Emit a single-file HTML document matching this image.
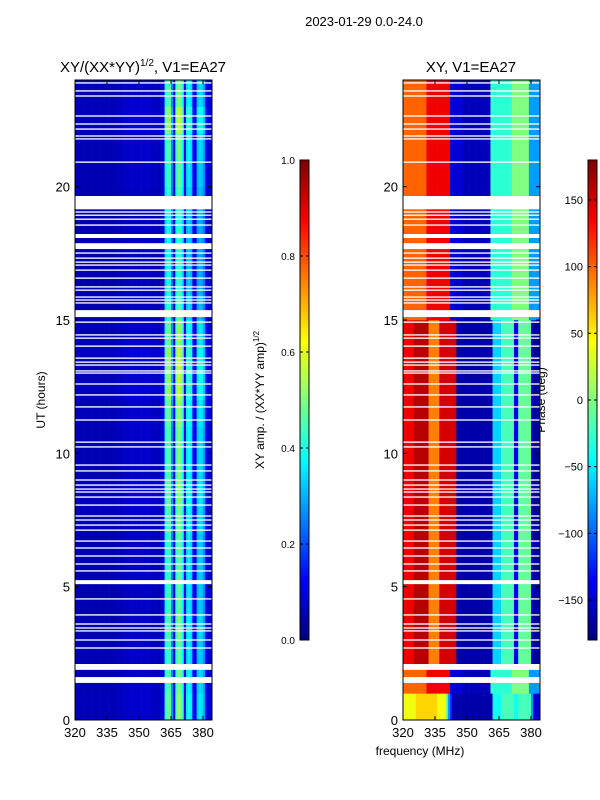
<!DOCTYPE html>
<html><head><meta charset="utf-8"><style>
body{margin:0;background:#fff;}
svg{display:block;font-family:"Liberation Sans",sans-serif;}
</style></head><body>
<svg id="chart" width="600" height="800" viewBox="0 0 600 800">
<text x="364" y="26" font-size="13" text-anchor="middle">2023-01-29 0.0-24.0</text>
<text x="143" y="72" font-size="15" text-anchor="middle">XY/(XX*YY)<tspan font-size="10" dy="-6">1/2</tspan><tspan dy="6">, V1=EA27</tspan></text>
<text x="471" y="72" font-size="15" text-anchor="middle">XY, V1=EA27</text>
<text x="420" y="755" font-size="12" text-anchor="middle">frequency (MHz)</text>
<text x="45" y="400" font-size="12" text-anchor="middle" transform="rotate(-90 45 400)">UT (hours)</text>
<text x="264" y="400" font-size="12" text-anchor="middle" transform="rotate(-90 264 400)">XY amp. / (XX*YY amp)<tspan font-size="8" dy="-5">1/2</tspan></text>
<text x="545" y="400" font-size="12" text-anchor="middle" transform="rotate(-90 545 400)">Phase (deg)</text>
<g id="layer"></g>
</svg>
<script>
// ---- data ----
const freqs = []; for (let f = 320; f < 384; f++) freqs.push(f);
const ampProfile = [0.05,0.05,0.05,0.05,0.05,0.05,0.05,0.05,0.05,0.05,0.05,0.05,0.05,0.05,0.05,0.05,0.05,0.05,0.05,0.05,0.06,0.06,0.06,0.06,0.07,0.07,0.07,0.07,0.07,0.07,0.07,0.07,0.07,0.07,0.07,0.07,0.06,0.06,0.06,0.06,0.07,0.09,
0.38,0.44,0.42,0.25,0.1,0.42,0.48,0.46,0.38,0.1,0.33,0.36,0.33,0.12,0.1,0.3,0.33,0.31,0.26,0.12,0.08,0.08];
const ampHourScale = [1.1,1.05,1.0,1.05,1.0,1.0,1.0,1.05,1.1,1.05,1.05,1.1,1.2,1.2,1.1,0.95,0.9,0.9,0.9,0.95,1.0,1.05,1.2,1.05];
const phaseLow = [140,140,140,140,140,160,160,160,160,160,160,160,90,90,90,90,90,150,150,150,150,150,150,150,150,
-165,-165,-165,-165,-165,-165,-165,-165,-165,-165,-165,-165,-165,-165,-165,-165,-165,
-60,-60,-60,-60,-20,-20,-20,-20,-20,-20,-140,-140,-10,-10,-10,-10,-10,-10,-150,-170,-170,-170];
const phaseHigh = [100,100,100,100,100,100,100,100,100,100,100,140,140,140,140,140,140,140,140,140,140,140,-150,-150,-150,-150,-150,-150,
-160,-160,-160,-160,-160,-160,-160,-160,-160,-160,-160,-160,-160,
-30,-30,-30,-30,-30,-30,-30,-30,-30,-30,0,0,0,0,0,0,0,0,-80,-80,-80,-80,-80];
const phaseStripe = [40,40,40,40,40,40,60,60,60,60,60,60,60,60,60,60,40,40,40,40,0,-80,-120,-160,-160,
-165,-165,-165,-165,-165,-165,-165,-165,-165,-165,-165,-165,-165,-165,-165,-165,-165,
-40,-40,-40,-40,-20,-20,-20,-20,-20,-20,-40,-40,-20,-20,-20,-20,-20,-20,-80,-150,-150,-150];
const hourMode = [2,1,0,0,0,0,0,0,0,0,0,0,0,0,0,1,1,1,1,1,1,1,1,1];
const gapHours = [23.89,23.59,23.40,22.65,22.35,22.16,21.90,21.79,20.92,19.40,19.05,18.93,18.78,18.56,18.15,17.77,17.51,17.32,17.17,17.06,16.87,16.57,16.24,16.12,15.86,15.75,15.64,15.24,14.92,14.44,14.32,14.02,13.57,13.42,13.31,13.09,13.01,12.60,12.19,11.74,11.25,10.42,10.24,9.56,9.34,9.0,8.81,8.66,8.55,8.36,8.06,7.65,7.50,7.31,7.12,6.71,6.45,6.15,5.85,5.59,5.17,4.54,3.94,3.60,3.45,3.34,3.0,2.70,1.99,1.50];
const gapWidths = {19.40:0.5,18.15:0.15,17.77:0.22,15.24:0.26,5.17:0.15,1.99:0.22,1.50:0.22};
const yTicks = [0,5,10,15,20];
const xTicks = [320,335,350,365,380];
const ampTicks = [0.0,0.2,0.4,0.6,0.8,1.0];
const phaseTicks = [-150,-100,-50,0,50,100,150];

// ---- helpers ----
const NS = 'http://www.w3.org/2000/svg';
const layer = document.getElementById('layer');
const PY0 = 80, PY1 = 720;
const yS = h => PY1 - (h / 24) * (PY1 - PY0);
const xL = f => 75 + (f - 320) * (128 / 60);
const xR = f => 403 + (f - 320) * (128 / 60);
function jet(v){v=Math.max(0,Math.min(1,v));
  const r=Math.max(0,Math.min(1,1.5-Math.abs(4*v-3))),g=Math.max(0,Math.min(1,1.5-Math.abs(4*v-2))),b=Math.max(0,Math.min(1,1.5-Math.abs(4*v-1)));
  return `rgb(${Math.round(r*255)},${Math.round(g*255)},${Math.round(b*255)})`;}
function mk(tag, attrs, parent){const e=document.createElementNS(NS,tag);for(const k in attrs)e.setAttribute(k,attrs[k]);(parent||layer).appendChild(e);return e;}

// ---- heatmaps ----
const gL = mk('g',{});  
const gR = mk('g',{});  
const dh = 0.25;
for (let t = 0; t < 24; t += dh) {
  const hr = Math.floor(t);
  const y0 = yS(t + dh), hgt = yS(t) - y0;
  for (let i = 0; i < freqs.length; i++) {
    const f = freqs[i];
    const a = mk('rect',{x:xL(f),y:y0,width:xL(f+1)-xL(f)+0.3,height:hgt+0.3,fill:jet(ampProfile[i]*ampHourScale[hr])},gL);
    
    
    const m = hourMode[hr];
    const ph = m===0?phaseLow[i]:(m===1?phaseHigh[i]:phaseStripe[i]);
    const p = mk('rect',{x:xR(f),y:y0,width:xR(f+1)-xR(f)+0.3,height:hgt+0.3,fill:jet((ph+180)/360)},gR);
    
    
  }
}
// gaps
gapHours.forEach(h=>{
  const w = gapWidths[h] || 0.05;
  [[75,212],[403,540]].forEach(([a,b])=>{
    const r = mk('rect',{x:a,y:yS(h+w/2),width:b-a,height:Math.max(1.2,yS(h-w/2)-yS(h+w/2)),fill:'#fff'});
    
    
  });
});
// frames, ticks
[[75,'left'],[403,'right']].forEach(([x0,nm])=>{
  const fr = mk('rect',{x:x0,y:PY0,width:137,height:PY1-PY0,fill:'none',stroke:'#000','stroke-width':1});
  
  
  const xf = nm==='left'?xL:xR;
  yTicks.forEach(v=>{
    const t = mk('text',{x:x0-5,y:yS(v)+5,'font-size':13,'text-anchor':'end'}); t.textContent=v;
    
    
    mk('line',{x1:x0,x2:x0+4,y1:yS(v),y2:yS(v),stroke:'#000'});
    mk('line',{x1:x0+133,x2:x0+137,y1:yS(v),y2:yS(v),stroke:'#000'});
  });
  xTicks.forEach(v=>{
    const t = mk('text',{x:xf(v),y:737,'font-size':13,'text-anchor':'middle'}); t.textContent=v;
    
    
    mk('line',{x1:xf(v),x2:xf(v),y1:PY1,y2:PY1-4,stroke:'#000'});
    mk('line',{x1:xf(v),x2:xf(v),y1:PY0,y2:PY0+4,stroke:'#000'});
  });
});
// colorbars
function colorbar(x, ticks, lo, hi, nm){
  const g = mk('g',{});  
  const n = 120;
  for(let k=0;k<n;k++){
    mk('rect',{x:x,y:640-(k+1)*480/n,width:9,height:480/n+0.5,fill:jet((k+0.5)/n)},g);
  }
  mk('rect',{x:x,y:160,width:9,height:480,fill:'none',stroke:'#000'},g);
  ticks.forEach(v=>{
    const y = 640-(v-lo)/(hi-lo)*480;
    mk('line',{x1:x,x2:x+3,y1:y,y2:y,stroke:'#000'},g);
    mk('line',{x1:x+6,x2:x+9,y1:y,y2:y,stroke:'#000'},g);
  });
  return g;
}
const cb1 = colorbar(300, ampTicks, 0, 1, 'amp-colorbar');
ampTicks.forEach(v=>{const t=mk('text',{x:295,y:640-v*480+4,'font-size':10,'text-anchor':'end'});t.textContent=v.toFixed(1);
  
  });
const cb2 = colorbar(588, phaseTicks, -180, 180, 'phase-colorbar');
phaseTicks.forEach(v=>{const t=mk('text',{x:583,y:640-(v+180)/360*480+4,'font-size':11,'text-anchor':'end'});t.textContent=v<0?'\u2212'+(-v):v;
  
  });
</script>
</body></html>
